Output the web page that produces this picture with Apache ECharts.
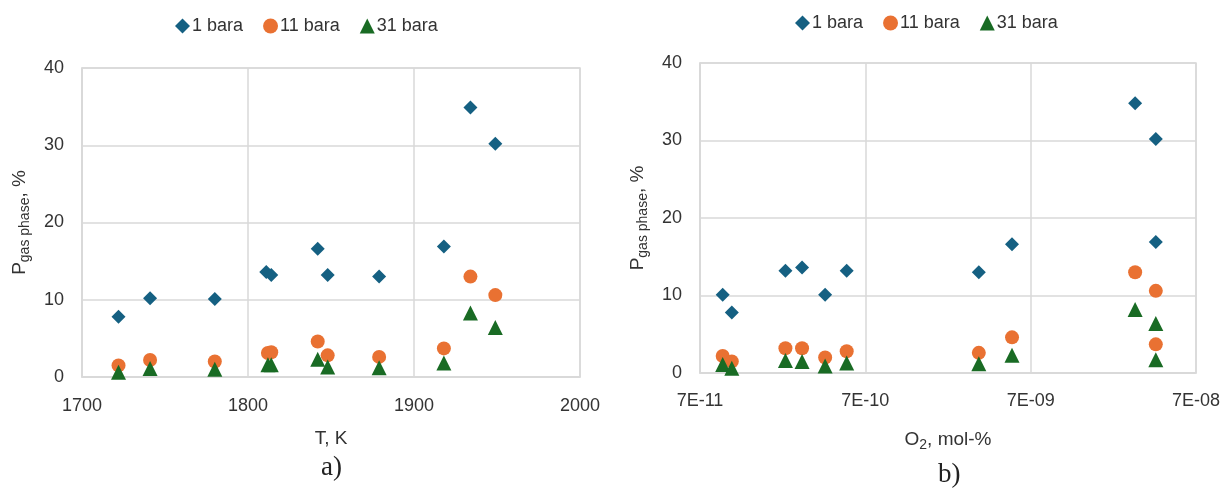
<!DOCTYPE html>
<html>
<head>
<meta charset="utf-8">
<script src="https://cdn.jsdelivr.net/npm/echarts@6/dist/echarts.min.js"></script>
<style>
  html, body { margin: 0; padding: 0; background: #fff; }
  #chart { width: 1223px; height: 489px; }
</style>
</head>
<body>
<div id="chart"></div>
<script>
// series names
const seriesNames = ['1 bara', '11 bara', '31 bara'];

// panel a) temperature, K
const tempBar1 = [1722, 1741, 1780, 1811, 1814, 1842, 1848, 1879, 1918, 1934, 1949];
const tempBar11 = [1722, 1741, 1780, 1812, 1814, 1842, 1848, 1879, 1918, 1934, 1949];
const tempBar31 = [1722, 1741, 1780, 1812, 1814, 1842, 1848, 1879, 1918, 1934, 1949];
const pBar1 = [7.8, 10.2, 10.1, 13.6, 13.2, 16.6, 13.2, 13.0, 16.9, 34.9, 30.2];
const pBar11 = [1.5, 2.2, 2.0, 3.1, 3.2, 4.6, 2.8, 2.6, 3.7, 13.0, 10.6];
const pBar31 = [0.6, 1.1, 1.0, 1.6, 1.6, 2.3, 1.3, 1.2, 1.8, 8.3, 6.4];

// panel b) O2, mol-%
const o2Bar1 = [9.6e-11, 1.09e-10, 2.3e-10, 2.9e-10, 4.0e-10, 5.4e-10, 3.4e-9, 5.4e-9, 3.0e-8, 4.0e-8, 4.0e-8];
const o2Bar11 = [9.6e-11, 1.09e-10, 2.3e-10, 2.9e-10, 4.0e-10, 5.4e-10, 3.4e-9, 5.4e-9, 3.0e-8, 4.0e-8, 4.0e-8];
const o2Bar31 = [9.6e-11, 1.09e-10, 2.3e-10, 2.9e-10, 4.0e-10, 5.4e-10, 3.4e-9, 5.4e-9, 3.0e-8, 4.0e-8, 4.0e-8];
const qBar1 = [10.1, 7.8, 13.2, 13.6, 10.1, 13.2, 13.0, 16.6, 34.8, 30.2, 16.9];
const qBar11 = [2.2, 1.5, 3.2, 3.2, 2.0, 2.8, 2.6, 4.6, 13.0, 10.6, 3.7];
const qBar31 = [1.1, 0.6, 1.6, 1.5, 0.9, 1.3, 1.2, 2.3, 8.2, 6.4, 1.7];

// log-axis tick values
const o2Ticks = [7e-11, 7e-10, 7e-9, 7e-8];

const colors = ['#156082', '#E97132', '#196B24'];
const symbols = ['diamond', 'circle', 'triangle'];
const symbolSizes = [14, 14, 15];

const FONT = 'Liberation Sans';
const TXT = '#333333';
const GRIDC = '#d9d9d9';

const pair = (xs, ys) => xs.map((x, i) => [x, ys[i]]);

const fmtSci = v => {
  const s = Number(v).toExponential(0).toUpperCase();
  return s.replace(/E([+-])(\d)$/, 'E$10$2');
};

const chart = echarts.init(document.getElementById('chart'));

const yAxisCommon = {
  type: 'value',
  min: 0,
  max: 40,
  interval: 10,
  name: '{p|P}{s|gas phase}{p|, %}',
  nameLocation: 'middle',
  nameRotate: 90,
  nameGap: 50,
  nameTextStyle: {
    color: TXT,
    rich: {
      p: { fontFamily: FONT, fontSize: 19, color: TXT },
      s: { fontFamily: FONT, fontSize: 14, color: TXT, padding: [10, 0, 0, 0] }
    }
  },
  axisLine: { show: true, lineStyle: { color: GRIDC, width: 1.5 } },
  axisTick: { show: false },
  axisLabel: { color: TXT, fontFamily: FONT, fontSize: 18, margin: 18 },
  splitLine: { show: true, lineStyle: { color: GRIDC, width: 1.5 } }
};

const legendCommon = {
  itemWidth: 15,
  itemHeight: 15,
  itemGap: 20,
  textStyle: { color: TXT, fontFamily: FONT, fontSize: 18, padding: [0, 0, 0, -3] },
  data: seriesNames
};

const mkSeries = (name, idx, axisIdx, data) => ({
  name: name,
  type: 'scatter',
  xAxisIndex: axisIdx,
  yAxisIndex: axisIdx,
  symbol: symbols[idx],
  symbolSize: symbolSizes[idx],
  itemStyle: { color: colors[idx], opacity: 1 },
  data: data
});

chart.setOption({
  animation: false,
  backgroundColor: '#fff',
  legend: [
    Object.assign({}, legendCommon, { left: 170, top: 12 }),
    Object.assign({}, legendCommon, { left: 790, top: 9 })
  ],
  grid: [
    { left: 82, right: 643, top: 68, bottom: 112, show: true, borderColor: GRIDC, borderWidth: 1.5 },
    { left: 700, right: 25, top: 63, bottom: 116, show: true, borderColor: GRIDC, borderWidth: 1.5 }
  ],
  xAxis: [
    {
      type: 'value',
      gridIndex: 0,
      min: 1700,
      max: 2000,
      interval: 100,
      name: 'T, K',
      nameLocation: 'middle',
      nameGap: 52,
      nameTextStyle: { color: TXT, fontFamily: FONT, fontSize: 19 },
      axisLine: { show: true, onZero: false, lineStyle: { color: GRIDC, width: 1.5 } },
      axisTick: { show: false },
      axisLabel: { color: TXT, fontFamily: FONT, fontSize: 18, margin: 20, formatter: v => String(v) },
      splitLine: { show: true, lineStyle: { color: GRIDC, width: 1.5 } }
    },
    {
      type: 'log',
      logBase: 10,
      gridIndex: 1,
      min: 7e-11,
      max: 7e-8,
      name: '{p|O}{s|2}{p|, mol-%}',
      nameLocation: 'middle',
      nameGap: 55,
      nameTextStyle: {
        color: TXT,
        rich: {
          p: { fontFamily: FONT, fontSize: 19, color: TXT },
          s: { fontFamily: FONT, fontSize: 14, color: TXT, padding: [10, 0, 0, 0] }
        }
      },
      axisLine: { show: true, onZero: false, lineStyle: { color: GRIDC, width: 1.5 } },
      axisTick: { show: false, customValues: o2Ticks },
      axisLabel: { color: TXT, fontFamily: FONT, fontSize: 18, margin: 19, customValues: o2Ticks, formatter: fmtSci },
      splitLine: { show: true, lineStyle: { color: GRIDC, width: 1.5 } }
    }
  ],
  yAxis: [
    Object.assign({}, yAxisCommon, { gridIndex: 0 }),
    Object.assign({}, yAxisCommon, { gridIndex: 1 })
  ],
  graphic: [
    { type: 'text', left: 321, top: 454, style: { text: 'a)', font: '27px "Liberation Serif"', fill: '#222' } },
    { type: 'text', left: 938, top: 461, style: { text: 'b)', font: '27px "Liberation Serif"', fill: '#222' } }
  ],
  series: [
    mkSeries(seriesNames[0], 0, 0, pair(tempBar1, pBar1)),
    mkSeries(seriesNames[1], 1, 0, pair(tempBar11, pBar11)),
    mkSeries(seriesNames[2], 2, 0, pair(tempBar31, pBar31)),
    mkSeries(seriesNames[0], 0, 1, pair(o2Bar1, qBar1)),
    mkSeries(seriesNames[1], 1, 1, pair(o2Bar11, qBar11)),
    mkSeries(seriesNames[2], 2, 1, pair(o2Bar31, qBar31))
  ]
});
</script>
</body>
</html>
